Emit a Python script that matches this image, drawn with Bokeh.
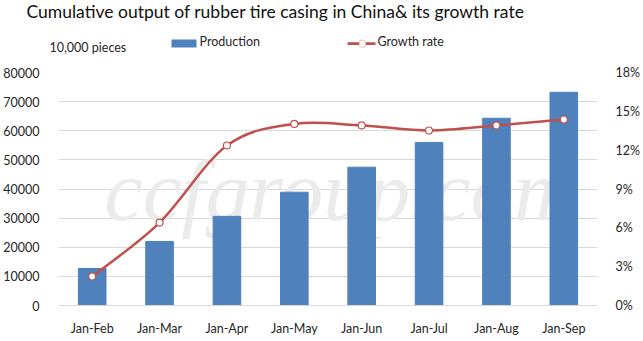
from bokeh.plotting import figure
from bokeh.layouts import column
from bokeh.models import (Range1d, FactorRange, LinearAxis, FixedTicker, PrintfTickFormatter,
                          Label, ColumnDataSource, BoxAnnotation)
from bokeh.embed import file_html
from bokeh.resources import INLINE

categories = ["Jan-Feb", "Jan-Mar", "Jan-Apr", "Jan-May", "Jan-Jun", "Jan-Jul", "Jan-Aug", "Jan-Sep"]
production = [12700, 22000, 30600, 38900, 47500, 56000, 64300, 73200]
growth = [2.24, 6.41, 12.36, 14.03, 13.91, 13.52, 13.91, 14.37]
left_ticks = [0, 10000, 20000, 30000, 40000, 50000, 60000, 70000, 80000]
right_ticks = [0, 3, 6, 9, 12, 15, 18]

title_text = "Cumulative output of rubber tire casing in China& its growth rate"
unit_text = "10,000 pieces"
series_names = ["Production", "Growth rate"]

FONT = "Lato"
BLUE = "#4f81bd"
RED = "#c0504d"
TXT = "#262626"

W = 643
HEAD_H = 60
H = 281
ML, MR, MT, MB = 55, 40, 12, 36

# ---------------- header (title + legend) ----------------
hd = figure(width=W, height=HEAD_H, x_range=Range1d(0, W), y_range=Range1d(0, HEAD_H),
            output_backend="svg", toolbar_location=None, x_axis_type=None, y_axis_type=None,
            min_border=0, min_border_left=0, min_border_right=0, min_border_top=0,
            min_border_bottom=0)
hd.frame_align = False
hd.title.visible = False
hd.outline_line_color = None
hd.xgrid.visible = False
hd.ygrid.visible = False
hd.background_fill_color = "white"
hd.border_fill_color = "white"


def hlab(x, cy, text, size, color=TXT):
    hd.add_layout(Label(x=x, y=HEAD_H - cy, x_units="screen", y_units="screen", text=text,
                        text_font=FONT, text_font_size=size, text_color=color))

hlab(26, 21, title_text, "17.5px", "#111111")
hlab(49, 54, unit_text, "12.5px")
hlab(199, 48, series_names[0], "12.5px")
hlab(377, 48, series_names[1], "12.5px")

hd.add_layout(BoxAnnotation(left_units="screen", right_units="screen", top_units="screen",
                            bottom_units="screen", left=171, right=196,
                            top=HEAD_H - 39, bottom=HEAD_H - 47, fill_color=BLUE, fill_alpha=1,
                            line_color=None, editable=False))
hd.add_layout(BoxAnnotation(left_units="screen", right_units="screen", top_units="screen",
                            bottom_units="screen", left=347, right=375,
                            top=HEAD_H - 41.8, bottom=HEAD_H - 44.6, fill_color=RED, fill_alpha=1,
                            line_color=None))
hd.add_layout(BoxAnnotation(left_units="screen", right_units="screen", top_units="screen",
                            bottom_units="screen", left=358.5, right=365.5,
                            top=HEAD_H - 39.7, bottom=HEAD_H - 46.7, fill_color="white",
                            fill_alpha=1, line_color=RED, line_width=1.2, border_radius=4))

# ---------------- main chart ----------------
p = figure(width=W, height=H, x_range=FactorRange(*categories, range_padding=0),
           y_range=Range1d(0, left_ticks[-1]), output_backend="svg", toolbar_location=None,
           min_border_left=ML, min_border_right=MR, min_border_top=MT, min_border_bottom=MB)
p.frame_align = False
p.title.visible = False
p.outline_line_color = None
p.background_fill_color = "white"
p.border_fill_color = "white"

p.extra_y_ranges = {"rate": Range1d(0, right_ticks[-1])}

# watermark
p.add_layout(Label(x=282, y=115, x_units="screen", y_units="screen", text="ccfgroup.com",
                   text_font="Liberation Serif", text_font_style="italic",
                   text_font_size="87px", text_color="#ebebeb", text_align="center",
                   text_baseline="middle", level="underlay"))

src = ColumnDataSource(dict(cat=categories, prod=production, g=growth))
p.vbar(x="cat", top="prod", width=0.41, source=src, color=BLUE)

# smooth (Catmull-Rom style) curve through the growth points
xs = [i + 0.5 for i in range(len(growth))]
n = len(growth)
x0, y0, x1, y1, cx0, cy0, cx1, cy1 = [], [], [], [], [], [], [], []
for i in range(n - 1):
    im = max(i - 1, 0)
    ip2 = min(i + 2, n - 1)
    x0.append(xs[i]); y0.append(growth[i])
    x1.append(xs[i + 1]); y1.append(growth[i + 1])
    cx0.append(xs[i] + (xs[i + 1] - xs[im]) / 6.0)
    cy0.append(growth[i] + (growth[i + 1] - growth[im]) / 6.0)
    cx1.append(xs[i + 1] - (xs[ip2] - xs[i]) / 6.0)
    cy1.append(growth[i + 1] - (growth[ip2] - growth[i]) / 6.0)
p.bezier(x0=x0, y0=y0, x1=x1, y1=y1, cx0=cx0, cy0=cy0, cx1=cx1, cy1=cy1,
         line_color=RED, line_width=2.5, y_range_name="rate")
p.scatter(x="cat", y="g", source=src, size=7, fill_color="white", line_color=RED,
          line_width=1.2, y_range_name="rate")

# axes
p.yaxis.ticker = FixedTicker(ticks=left_ticks)
p.yaxis.axis_line_color = None
p.yaxis.major_tick_line_color = None
p.yaxis.minor_tick_line_color = None
p.yaxis.major_label_text_font = FONT
p.yaxis.major_label_text_font_size = "12.5px"
p.yaxis.major_label_text_color = TXT
p.yaxis.major_label_standoff = 13

ra = LinearAxis(y_range_name="rate", ticker=FixedTicker(ticks=right_ticks),
                formatter=PrintfTickFormatter(format="%d%%"))
ra.axis_line_color = None
ra.major_tick_line_color = None
ra.minor_tick_line_color = None
ra.major_label_text_font = FONT
ra.major_label_text_font_size = "12.5px"
ra.major_label_text_color = TXT
ra.major_label_standoff = 12
p.add_layout(ra, "right")

p.xaxis.axis_line_color = "#d9d9d9"
p.xaxis.major_tick_line_color = None
p.xaxis.minor_tick_line_color = None
p.xaxis.major_label_text_font = FONT
p.xaxis.major_label_text_font_size = "12.5px"
p.xaxis.major_label_text_color = TXT
p.xaxis.major_label_standoff = 9

p.xgrid.grid_line_color = None
p.ygrid.grid_line_color = "#d9d9d9"

layout = column(hd, p, spacing=0)
open("out.html", "w").write(file_html(layout, INLINE))
